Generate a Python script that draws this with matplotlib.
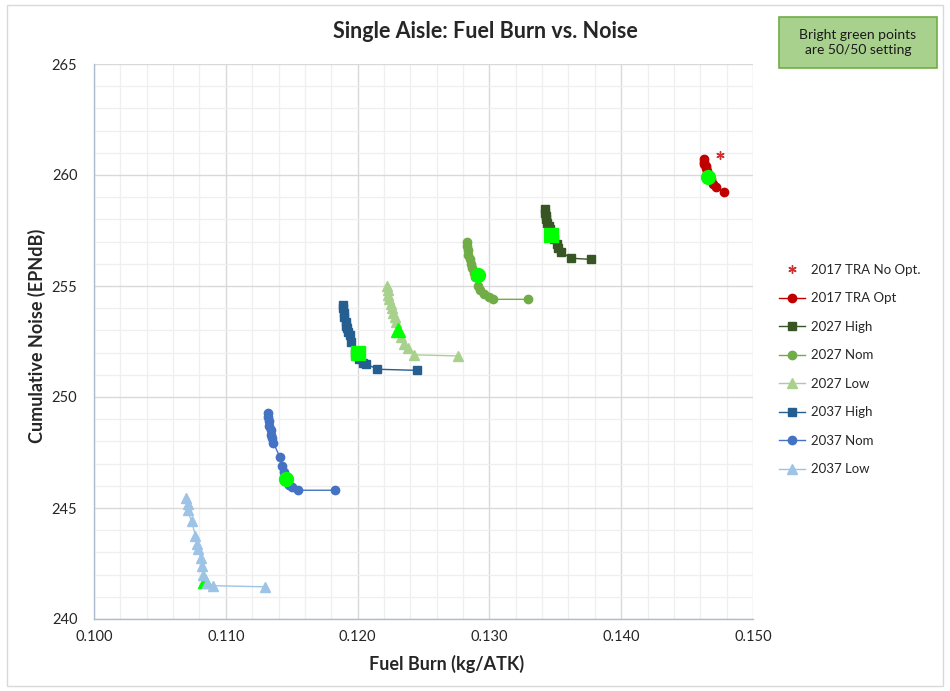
import matplotlib
matplotlib.use("Agg")
import matplotlib.pyplot as plt
from matplotlib.ticker import MultipleLocator, FormatStrFormatter
from matplotlib.patches import Rectangle

plt.rcParams['font.family'] = ['Lato', 'DejaVu Sans']

# ---------------- data ----------------
tra_noopt_x = [0.1475]
tra_noopt_y = [260.9]

tra_opt_x = [0.1463, 0.1463, 0.1463, 0.1464, 0.1464, 0.1465, 0.1466, 0.1467, 0.1468, 0.1470, 0.1472, 0.1478]
tra_opt_y = [260.7, 260.6, 260.5, 260.4, 260.3, 260.2, 260.0, 259.9, 259.8, 259.6, 259.45, 259.25]

h27_x = [0.1342, 0.1342, 0.1343, 0.1343, 0.1344, 0.1345, 0.1346, 0.1347, 0.1349, 0.1351, 0.1352, 0.1354, 0.1362, 0.1377]
h27_y = [258.45, 258.3, 258.15, 258.0, 257.85, 257.7, 257.55, 257.4, 257.1, 256.9, 256.7, 256.55, 256.25, 256.2]

n27_x = [0.1283, 0.1283, 0.1284, 0.1284, 0.1285, 0.1286, 0.1287, 0.1288, 0.1289, 0.1291, 0.1293, 0.1296, 0.1300, 0.1303, 0.1329]
n27_y = [257.0, 256.8, 256.6, 256.4, 256.2, 256.0, 255.8, 255.6, 255.4, 255.0, 254.8, 254.65, 254.5, 254.4, 254.4]

l27_x = [0.1222, 0.1223, 0.1223, 0.1224, 0.1225, 0.1226, 0.1227, 0.1228, 0.1229, 0.1231, 0.1233, 0.1235, 0.1238, 0.1243, 0.1276]
l27_y = [255.0, 254.8, 254.6, 254.4, 254.2, 254.0, 253.8, 253.6, 253.4, 253.0, 252.7, 252.4, 252.2, 251.9, 251.85]

h37_x = [0.1189, 0.1189, 0.1190, 0.1190, 0.1191, 0.1191, 0.1192, 0.1193, 0.1194, 0.1195, 0.1198, 0.1201, 0.1204, 0.1206, 0.1215, 0.1245]
h37_y = [254.15, 254.0, 253.8, 253.6, 253.4, 253.2, 253.1, 252.95, 252.8, 252.5, 252.0, 251.7, 251.55, 251.5, 251.25, 251.2]

n37_x = [0.1132, 0.1132, 0.1133, 0.1133, 0.1134, 0.1134, 0.1135, 0.1136, 0.1141, 0.1143, 0.1144, 0.1146, 0.1148, 0.1150, 0.1155, 0.1183]
n37_y = [249.3, 249.1, 248.9, 248.7, 248.5, 248.3, 248.15, 247.95, 247.3, 246.9, 246.6, 246.3, 246.05, 245.95, 245.8, 245.8]

l37_x = [0.1070, 0.1071, 0.1071, 0.1074, 0.1077, 0.1078, 0.1079, 0.1081, 0.1082, 0.1083, 0.1086, 0.1090, 0.1130]
l37_y = [245.45, 245.2, 244.9, 244.4, 243.75, 243.4, 243.15, 242.75, 242.4, 242.0, 241.6, 241.5, 241.45]

# 50/50 setting points (bright green)
fifty_x = [0.1466, 0.1347, 0.1291, 0.1231, 0.1200, 0.1146, 0.1084]
fifty_y = [259.9, 257.3, 255.5, 253.0, 252.0, 246.3, 241.7]
fifty_marker = ['o', 's', 'o', '^', 's', 'o', '^']
fifty_on_top = [True, True, True, True, True, True, False]

series_names = ['2017 TRA Opt', '2027 High', '2027 Nom', '2027 Low', '2037 High', '2037 Nom', '2037 Low']
series_x = [tra_opt_x, h27_x, n27_x, l27_x, h37_x, n37_x, l37_x]
series_y = [tra_opt_y, h27_y, n27_y, l27_y, h37_y, n37_y, l37_y]
series_colors = ['#C00000', '#375623', '#70AD47', '#A9D18E', '#255E91', '#4472C4', '#9DC3E6']
series_markers = ['o', 's', 'o', '^', 's', 'o', '^']

# ---------------- figure ----------------
W, H = 950, 691
fig = plt.figure(figsize=(9.5, 6.91), dpi=100)
L, R, T, B = 94, 753, 64, 619
ax = fig.add_axes([L / W, 1 - B / H, (R - L) / W, (B - T) / H])

# figure border
fig.patches.append(Rectangle((7 / W, 5 / H), (W - 14) / W, (H - 10) / H,
                             transform=fig.transFigure, fill=False,
                             edgecolor='#d9d9d9', linewidth=1))

ax.set_xlim(0.100, 0.150)
ax.set_ylim(240, 265)
ax.xaxis.set_major_locator(MultipleLocator(0.010))
ax.xaxis.set_minor_locator(MultipleLocator(0.002))
ax.yaxis.set_major_locator(MultipleLocator(5))
ax.yaxis.set_minor_locator(MultipleLocator(1))
ax.xaxis.set_major_formatter(FormatStrFormatter('%.3f'))
ax.grid(which='major', color='#d9d9d9', linewidth=1)
ax.grid(which='minor', color='#efefef', linewidth=0.9)
ax.set_axisbelow(True)
ax.tick_params(which='both', length=0, labelsize=10.5, colors='#262626')
ax.tick_params(axis='x', pad=8)
ax.tick_params(axis='y', pad=12)
for s in ['top', 'right']:
    ax.spines[s].set_visible(False)
for s in ['left', 'bottom']:
    ax.spines[s].set_color('#aebcd0')
    ax.spines[s].set_linewidth(1)

# No-opt point
ax.plot(tra_noopt_x, tra_noopt_y, linestyle='none', marker=(6, 2, 0),
        markersize=6, color='#D03030', markeredgewidth=1.0, label='2017 TRA No Opt.', zorder=4)

for i, (nm, xs, ys, c, m) in enumerate(zip(series_names, series_x, series_y, series_colors, series_markers)):
    ms = 6.5 if m == '^' else 6
    ax.plot(xs, ys, color=c, linewidth=1.0, marker=m, markersize=ms,
            markerfacecolor=c, markeredgecolor=c, label=nm, zorder=3)

for x, y, m, top in zip(fifty_x, fifty_y, fifty_marker, fifty_on_top):
    ax.plot([x], [y], linestyle='none', marker=m, markersize=10 if m != '^' else 10.5,
            color='#00FF00', markeredgecolor='#00FF00', zorder=5 if top else 2.5)

leg = fig.legend(loc='upper left', bbox_to_anchor=(767 / W, 1 - 252 / H),
                 frameon=False, fontsize=9.5, labelspacing=1.25, handlelength=2.0,
                 handletextpad=0.45)
for t in leg.get_texts():
    t.set_color('#262626')

fig.text(485 / W, 1 - 31 / H, 'Single Aisle: Fuel Burn vs. Noise', ha='center', va='center',
         fontsize=15.5, fontweight='bold', color='#262626')
fig.text(447 / W, 1 - 664 / H, 'Fuel Burn (kg/ATK)', ha='center', va='center',
         fontsize=13, fontweight='bold', color='#262626')
fig.text(37 / W, 1 - 336 / H, 'Cumulative Noise (EPNdB)', ha='center', va='center',
         rotation=90, fontsize=13, fontweight='bold', color='#262626')

# annotation box
bx0, by0, bx1, by1 = 779, 17, 937, 68
fig.patches.append(Rectangle((bx0 / W, 1 - by1 / H), (bx1 - bx0) / W, (by1 - by0) / H,
                             transform=fig.transFigure, facecolor='#A9D18E',
                             edgecolor='#70AD47', linewidth=1.2))
fig.text((bx0 + bx1) / 2 / W, 1 - (by0 + by1) / 2 / H, 'Bright green points\nare 50/50 setting',
         ha='center', va='center', fontsize=10, color='#1a1a1a', linespacing=1.35)

fig.savefig('out.png', dpi=100)
